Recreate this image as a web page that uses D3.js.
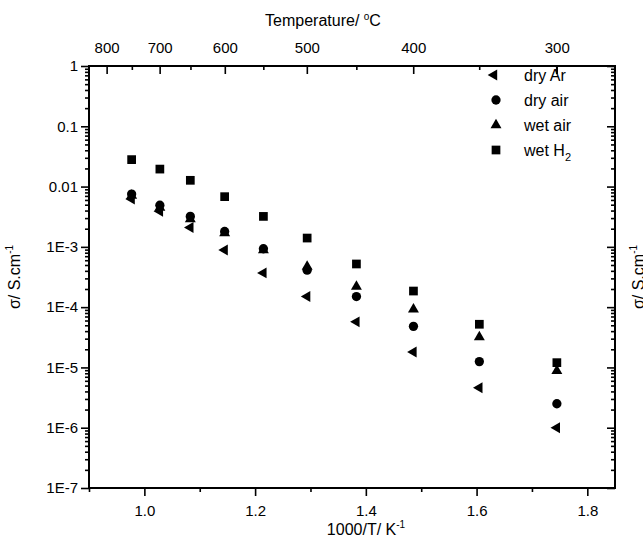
<!DOCTYPE html>
<html>
<head>
<meta charset="utf-8">
<script src="https://cdn.jsdelivr.net/npm/d3@7"></script>
<style>
  body { margin: 0; background: #fff; }
  svg { display: block; }
  text { font-family: Arial, "Liberation Sans", sans-serif; fill: #000; }
</style>
</head>
<body>
<div id="scatter"></div>
<script>
// data
var invT = [0.977, 1.028, 1.083, 1.145, 1.215, 1.294, 1.383, 1.486, 1.605, 1.745];
var dryAr = [0.0062, 0.0039, 0.0021, 8.9e-4, 3.7e-4, 1.5e-4, 5.7e-5, 1.8e-5, 4.6e-6, 1.0e-6];
var dryAir = [0.0075, 0.0049, 0.0032, 0.0018, 9.3e-4, 4.1e-4, 1.5e-4, 4.8e-5, 1.25e-5, 2.5e-6];
var wetAir = [0.0071, 0.0045, 0.0029, 0.0017, 8.8e-4, 4.7e-4, 2.2e-4, 9.2e-5, 3.2e-5, 8.8e-6];
var wetH2 = [0.028, 0.0195, 0.0127, 0.0068, 0.0032, 0.0014, 5.2e-4, 1.85e-4, 5.2e-5, 1.2e-5];

var seriesNames = ["dry Ar", "dry air", "wet air", "wet H"];
var xTicks = [1.0, 1.2, 1.4, 1.6, 1.8];
var xMinorTicks = [0.9, 1.1, 1.3, 1.5, 1.7];
var yTicks = [1, 0.1, 0.01, 1e-3, 1e-4, 1e-5, 1e-6, 1e-7];
var yTickLabels = ["1", "0.1", "0.01", "1E-3", "1E-4", "1E-5", "1E-6", "1E-7"];
var tempTicks = [800, 700, 600, 500, 400, 300];
var tempMinorTicks = [750, 650, 550, 450, 350];

// set width and height
var svgWidth = 643;
var svgHeight = 542;

var margin = {
  top: 66,
  bottom: 54,
  right: 28,
  left: 89
};
var width = svgWidth - margin.left - margin.right;
var height = svgHeight - margin.top - margin.bottom;

var svg = d3.select("#scatter")
  .append("svg")
  .attr("width", svgWidth)
  .attr("height", svgHeight);

var chartGroup = svg.append("g")
  .attr("transform", `translate(${margin.left}, ${margin.top})`);

// scales
var xScale = d3.scaleLinear()
  .domain([0.9, 1.85])
  .range([0, width]);

var yScale = d3.scaleLog()
  .domain([1e-7, 1])
  .range([height, 0]);

// deg C -> 1000/T
function toInvT(t) {
  return 1000 / (t + 273.15);
}

// log minor ticks 2..9 per decade
var yMinorTicks = [];
for (var e = -7; e < 0; e++) {
  for (var k = 2; k <= 9; k++) {
    yMinorTicks.push(k * Math.pow(10, e));
  }
}

function cleanAxis(g) {
  g.select(".domain").remove();
  g.selectAll(".tick line").attr("stroke", "#000").attr("stroke-width", 1.6);
  g.selectAll(".tick text")
    .style("font-size", "15px")
    .style("font-family", "Arial, 'Liberation Sans', sans-serif");
}

// bottom axis
chartGroup.append("g")
  .attr("transform", `translate(0, ${height})`)
  .call(d3.axisBottom(xScale).tickValues(xTicks).tickSize(8).tickPadding(9).tickFormat(d3.format(".1f")))
  .call(cleanAxis);
chartGroup.append("g")
  .attr("transform", `translate(0, ${height})`)
  .call(d3.axisBottom(xScale).tickValues(xMinorTicks).tickSize(4).tickFormat(""))
  .call(cleanAxis);

// left axis
chartGroup.append("g")
  .call(d3.axisLeft(yScale).tickValues(yTicks).tickSize(8).tickPadding(3)
    .tickFormat(function(d, i) { return yTickLabels[i]; }))
  .call(cleanAxis);
chartGroup.append("g")
  .call(d3.axisLeft(yScale).tickValues(yMinorTicks).tickSize(4).tickFormat(""))
  .call(cleanAxis);

// right axis (inward ticks)
chartGroup.append("g")
  .attr("transform", `translate(${width}, 0)`)
  .call(d3.axisRight(yScale).tickValues(yTicks).tickSize(-8).tickFormat(""))
  .call(cleanAxis);
chartGroup.append("g")
  .attr("transform", `translate(${width}, 0)`)
  .call(d3.axisRight(yScale).tickValues(yMinorTicks).tickSize(-4).tickFormat(""))
  .call(cleanAxis);

// top axis: temperature in C, placed on the same 1000/T scale
chartGroup.append("g")
  .call(d3.axisTop(xScale).tickValues(tempTicks.map(toInvT)).tickSize(-8).tickPadding(13)
    .tickFormat(function(v) { return Math.round(1000 / v - 273.15); }))
  .call(cleanAxis);
chartGroup.append("g")
  .call(d3.axisTop(xScale).tickValues(tempMinorTicks.map(toInvT)).tickSize(-4).tickFormat(""))
  .call(cleanAxis);

// frame
chartGroup.append("rect")
  .attr("x", 0)
  .attr("y", 0)
  .attr("width", width)
  .attr("height", height)
  .attr("fill", "none")
  .attr("stroke", "#000")
  .attr("stroke-width", 2);

// markers
var symbols = [
  { type: d3.symbolTriangle, size: 52, rotate: -90, values: dryAr },
  { type: d3.symbolCircle, size: 68, rotate: 0, values: dryAir },
  { type: d3.symbolTriangle, size: 52, rotate: 0, values: wetAir },
  { type: d3.symbolSquare, size: 76, rotate: 0, values: wetH2 }
];

symbols.forEach(function(s) {
  var path = d3.symbol().type(s.type).size(s.size)();
  chartGroup.append("g")
    .selectAll("path")
    .data(s.values)
    .enter()
    .append("path")
    .attr("d", path)
    .attr("fill", "#000")
    .attr("transform", function(d, i) {
      return `translate(${xScale(invT[i])}, ${yScale(d)}) rotate(${s.rotate})`;
    });
});

// legend
var legend = chartGroup.append("g")
  .attr("transform", "translate(407, 9)");
symbols.forEach(function(s, i) {
  var row = legend.append("g")
    .attr("transform", `translate(${i === 0 ? -2 : 0}, ${i * 25})`);
  row.append("path")
    .attr("d", d3.symbol().type(s.type).size(s.size)())
    .attr("fill", "#000")
    .attr("transform", `rotate(${s.rotate})`);
  var t = row.append("text")
    .attr("x", i === 0 ? 30 : 28)
    .attr("y", 6)
    .style("font-size", "16px")
    .text(seriesNames[i]);
  if (i === 3) {
    t.append("tspan").attr("dy", 5).style("font-size", "11px").text("2");
  }
});

// the 300 C tick sits on top of the legend in the original
chartGroup.append("line")
  .attr("x1", xScale(toInvT(300)))
  .attr("x2", xScale(toInvT(300)))
  .attr("y1", 0)
  .attr("y2", 8)
  .attr("stroke", "#000")
  .attr("stroke-width", 1.6);

// axis titles
chartGroup.append("text")
  .attr("x", width / 2 + 14)
  .attr("y", height + 47)
  .attr("text-anchor", "middle")
  .style("font-size", "16px")
  .text("1000/T/ K")
  .append("tspan")
  .attr("dy", -7)
  .style("font-size", "10px")
  .text("-1");

var topTitle = chartGroup.append("text")
  .attr("x", 234)
  .attr("y", -40)
  .attr("text-anchor", "middle")
  .style("font-size", "16px")
  .text("Temperature/ ");
topTitle.append("tspan").attr("dy", -6).style("font-size", "10px").text("o");
topTitle.append("tspan").attr("dy", 6).text("C");

function yTitle(x) {
  var t = svg.append("text")
    .attr("transform", `translate(${x}, ${margin.top + height / 2}) rotate(-90)`)
    .attr("text-anchor", "middle")
    .style("font-size", "16px")
    .text("\u03c3/ S.cm");
  t.append("tspan").attr("dy", -7).style("font-size", "10px").text("-1");
}
yTitle(20);
// label of the neighbouring panel, cut by the image edge as in the original
yTitle(644);
</script>
</body>
</html>
